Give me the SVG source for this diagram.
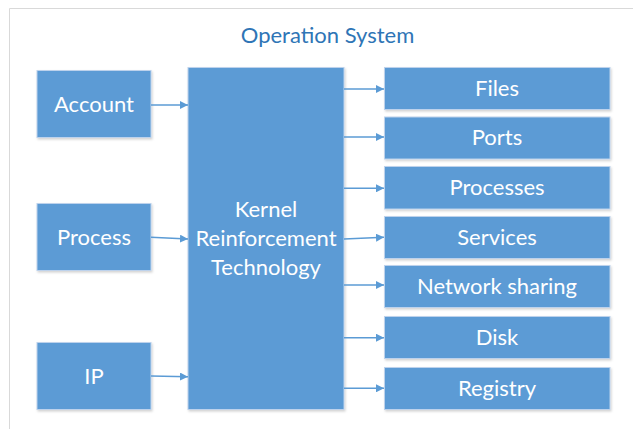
<svg xmlns="http://www.w3.org/2000/svg" width="633" height="429" viewBox="0 0 633 429">
<defs>
<filter id="sh" x="-10%" y="-10%" width="125%" height="125%">
<feDropShadow dx="1" dy="1.5" stdDeviation="1.2" flood-color="#000" flood-opacity="0.18"/>
</filter>
<marker id="ah" markerWidth="8" markerHeight="8" refX="8" refY="4" orient="auto" markerUnits="userSpaceOnUse">
<path d="M0,0 L8,4 L0,8 Z" fill="#5B9BD5"/>
</marker>
<style>
.box{fill:#5B9BD5;stroke:#BDD2EC;stroke-width:1;filter:url(#sh)}
.lbl{font-family:Lato,"Open Sans","Liberation Sans",sans-serif;font-size:22px;fill:#FFFFFF;text-anchor:middle;dominant-baseline:central}
.con{stroke:#5B9BD5;stroke-width:1.6;fill:none;marker-end:url(#ah)}
.title{font-family:Lato,"Open Sans","Liberation Sans",sans-serif;font-size:22px;fill:#2E75B6;text-anchor:middle;dominant-baseline:central}
</style>
</defs>
<rect width="633" height="429" fill="#FFFFFF"/>
<path d="M9.5,429 L9.5,8.5 L633,8.5" stroke="#D9D9D9" stroke-width="1" fill="none"/>
<text class="title" x="327.5" y="34">Operation System</text>

<g id="account"><rect class="box" x="37" y="70.5" width="114" height="67"/><text class="lbl" x="94" y="103">Account</text></g>
<g id="process"><rect class="box" x="37" y="203.5" width="114" height="67"/><text class="lbl" x="94" y="236">Process</text></g>
<g id="ip"><rect class="box" x="37" y="342.5" width="114" height="67"/><text class="lbl" x="94" y="375">IP</text></g>

<g id="kernel"><rect class="box" x="188" y="67.5" width="156" height="342"/>
<text class="lbl" x="266" y="208.5">Kernel</text>
<text class="lbl" x="266" y="237.5">Reinforcement</text>
<text class="lbl" x="266" y="266.5">Technology</text></g>

<g id="files"><rect class="box" x="384.5" y="67.5" width="225.5" height="42"/><text class="lbl" x="497" y="87">Files</text></g>
<g id="ports"><rect class="box" x="384.5" y="117" width="225.5" height="42"/><text class="lbl" x="497" y="136.5">Ports</text></g>
<g id="processes"><rect class="box" x="384.5" y="166.5" width="225.5" height="42.5"/><text class="lbl" x="497" y="186.5">Processes</text></g>
<g id="services"><rect class="box" x="384.5" y="216.5" width="225.5" height="42"/><text class="lbl" x="497" y="236">Services</text></g>
<g id="network"><rect class="box" x="384.5" y="265.5" width="225.5" height="42"/><text class="lbl" x="497" y="285">Network sharing</text></g>
<g id="disk"><rect class="box" x="384.5" y="316.5" width="225.5" height="42"/><text class="lbl" x="497" y="336">Disk</text></g>
<g id="registry"><rect class="box" x="384.5" y="367.5" width="225.5" height="42"/><text class="lbl" x="497" y="387">Registry</text></g>

<g id="connectors">
<line class="con" x1="151" y1="105" x2="188" y2="105"/>
<line class="con" x1="151" y1="237.3" x2="188" y2="239"/>
<line class="con" x1="151" y1="376" x2="188" y2="376.7"/>
<line class="con" x1="344" y1="89" x2="384" y2="89"/>
<line class="con" x1="344" y1="137" x2="384" y2="137"/>
<line class="con" x1="344" y1="188.3" x2="384" y2="188.3"/>
<line class="con" x1="344" y1="239" x2="384" y2="237.3"/>
<line class="con" x1="344" y1="285" x2="384" y2="285"/>
<line class="con" x1="344" y1="337.7" x2="384" y2="337.7"/>
<line class="con" x1="344" y1="388.3" x2="384" y2="388.3"/>
</g>
</svg>
